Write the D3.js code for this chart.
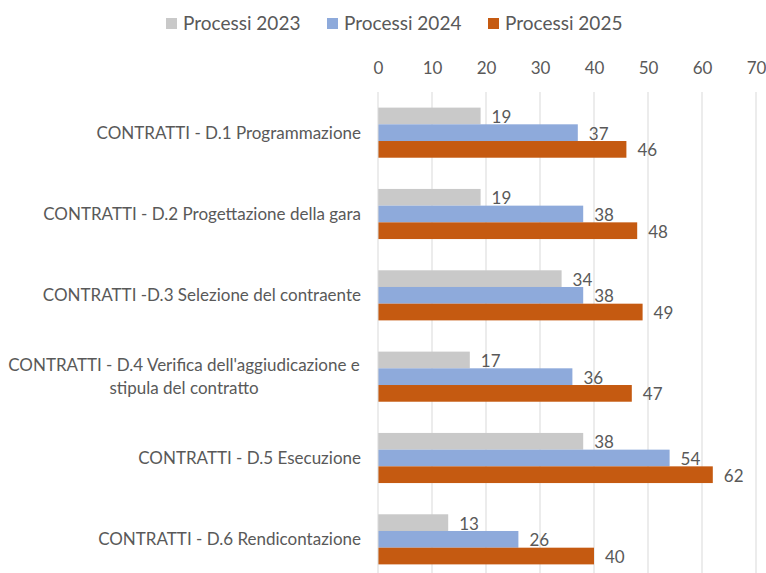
<!DOCTYPE html>
<html><head><meta charset="utf-8">
<script src="https://cdn.jsdelivr.net/npm/d3@7"></script>
<style>body{margin:0;background:#fff;} text{font-family:Lato,"Open Sans",sans-serif;fill:#595959;}</style>
</head><body>
<svg id="c" width="766" height="573"></svg>
<script>
const categories = [
  ["CONTRATTI - D.1 Programmazione"],
  ["CONTRATTI - D.2 Progettazione della gara"],
  ["CONTRATTI -D.3 Selezione del contraente"],
  ["CONTRATTI - D.4 Verifica dell'aggiudicazione e", "stipula del contratto"],
  ["CONTRATTI - D.5 Esecuzione"],
  ["CONTRATTI - D.6 Rendicontazione"]
];
const seriesNames = ["Processi 2023", "Processi 2024", "Processi 2025"];
const values2023 = [19, 19, 34, 17, 38, 13];
const values2024 = [37, 38, 38, 36, 54, 26];
const values2025 = [46, 48, 49, 47, 62, 40];
const tickValues = [0, 10, 20, 30, 40, 50, 60, 70];
const colors = ["#c9c9c9", "#8eaadb", "#c55a11"];

const series = [values2023, values2024, values2025];
const svg = d3.select("#c");
const mLeft = 378, mRight = 756, mTop = 92, mBottom = 580;

const x = d3.scaleLinear().domain([0, 70]).range([mLeft, mRight]);
const y = d3.scaleBand().domain(d3.range(categories.length)).range([mTop, mBottom]).paddingInner(0.384).paddingOuter(0.192);
const yi = d3.scaleBand().domain(d3.range(series.length)).range([0, y.bandwidth()]);

// gridlines
svg.append("g").selectAll("line").data(tickValues.slice(1)).join("line")
  .attr("x1", d => x(d)).attr("x2", d => x(d)).attr("y1", mTop).attr("y2", mBottom)
  .attr("stroke", "#d9d9d9").attr("stroke-width", 1);

// top axis
const ax = svg.append("g").attr("transform", `translate(0,${mTop})`)
  .call(d3.axisTop(x).tickValues(tickValues).tickSize(0).tickPadding(18));
ax.select(".domain").remove();
ax.selectAll("text").attr("font-size", 17).style("fill", "#595959").attr("font-family", "Lato, sans-serif");

// bars
series.forEach((vals, si) => {
  svg.append("g").selectAll("rect").data(vals).join("rect")
    .attr("x", x(0)).attr("y", (d, i) => y(i) + yi(si))
    .attr("width", d => x(d) - x(0)).attr("height", yi.bandwidth())
    .attr("fill", colors[si]);
  svg.append("g").selectAll("text").data(vals).join("text")
    .attr("x", d => x(d) + 11).attr("y", (d, i) => y(i) + yi(si) + yi.bandwidth() / 2 + 1)
    .attr("dy", "0.35em").attr("font-size", 17).text(d => d);
});

// vertical axis line
svg.append("line").attr("x1", x(0)).attr("x2", x(0)).attr("y1", mTop).attr("y2", mBottom)
  .attr("stroke", "#d9d9d9").attr("stroke-width", 1);

// category labels
categories.forEach((lines, i) => {
  const cy = y(i) + y.bandwidth() / 2;
  const t = svg.append("text").attr("font-size", 17).attr("text-anchor", lines.length > 1 ? "middle" : "end");
  const n = lines.length;
  lines.forEach((ln, k) => {
    t.append("tspan").attr("x", lines.length > 1 ? 184 : 361)
      .attr("y", cy + (k - (n - 1) / 2) * 23).attr("dy", "0.35em").text(ln);
  });
});

// legend
const lg = svg.append("g");
const legendX = [166, 327, 488];
seriesNames.forEach((s, i) => {
  lg.append("rect").attr("x", legendX[i]).attr("y", 18).attr("width", 11).attr("height", 11).attr("fill", colors[i]);
  lg.append("text").attr("x", legendX[i] + 17).attr("y", 23).attr("dy", "0.35em").attr("font-size", 19).text(s);
});
</script>
</body></html>
